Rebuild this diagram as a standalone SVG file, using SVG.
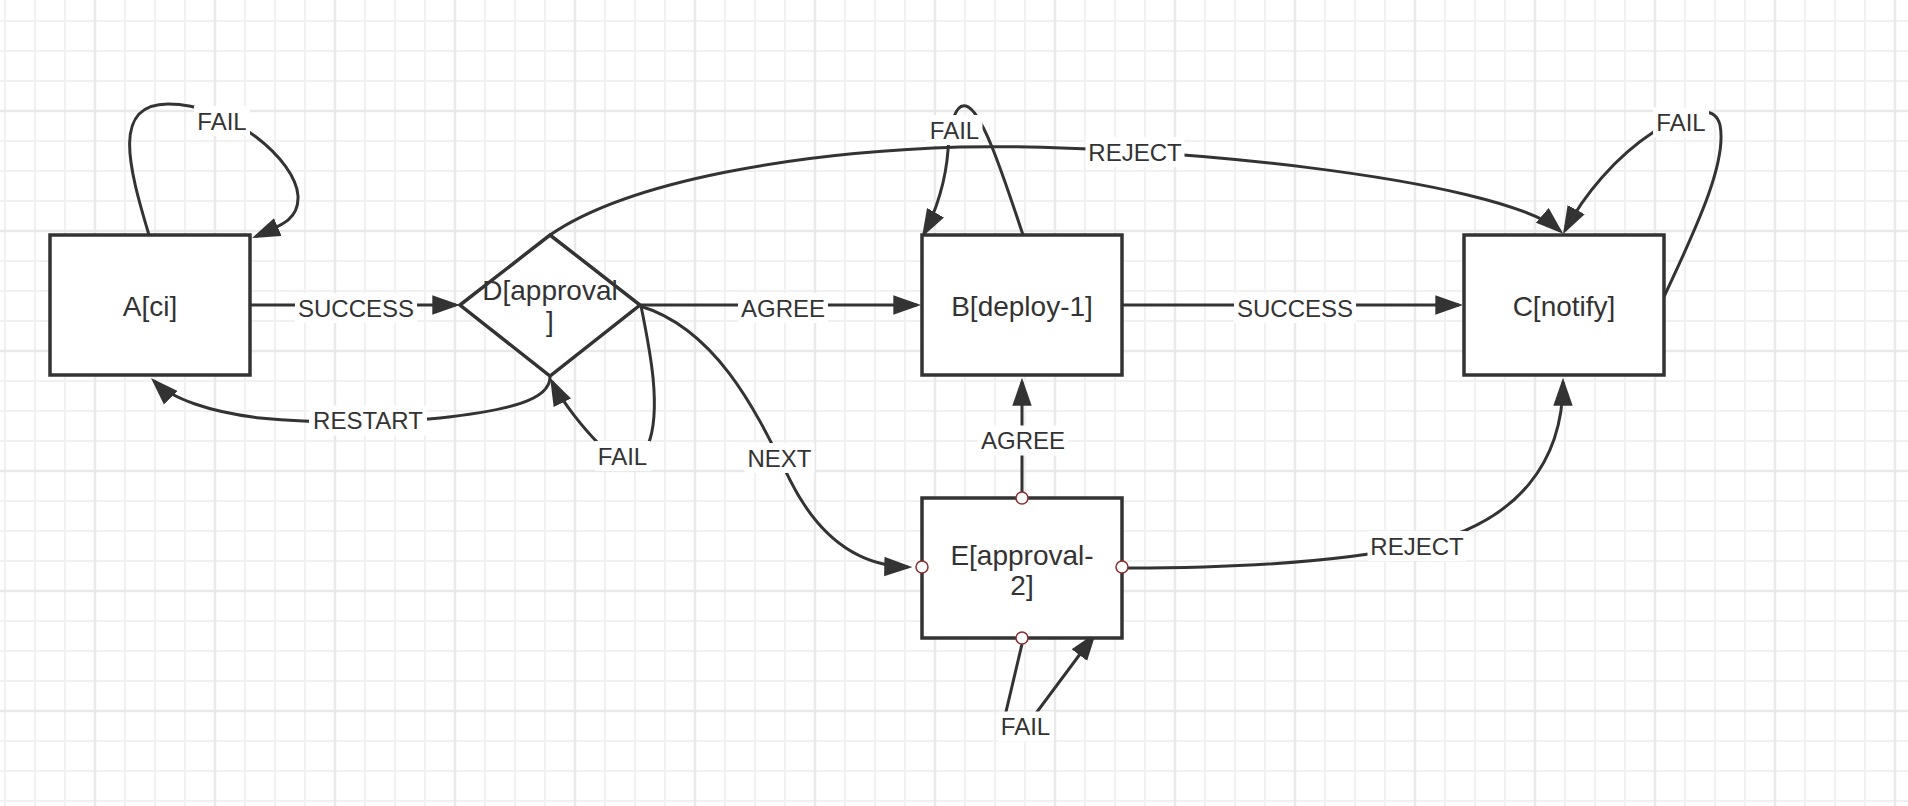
<svg xmlns="http://www.w3.org/2000/svg" width="1908" height="806" viewBox="0 0 1908 806">
  <style>
    .edge { fill: none; stroke: #333; stroke-width: 3; }
    .arr { marker-end: url(#arrow); }
    .box { fill: #fff; stroke: #333; stroke-width: 3.5; }
    .ntext { font-family: "Liberation Sans", Arial, sans-serif; font-size: 28px; fill: #333; text-anchor: middle; }
    .ltext { font-family: "Liberation Sans", Arial, sans-serif; font-size: 24px; fill: #333; text-anchor: middle; }
    .lbg { fill: #fff; stroke: none; }
    .port { fill: #fff; stroke: #8a2f2f; stroke-width: 1.5; }
    .gmin { stroke: #f1f1f1; stroke-width: 2; }
    .gmaj { stroke: #e9e9e9; stroke-width: 2.5; }
  </style>
  <defs>
    <marker id="arrow" markerUnits="userSpaceOnUse" markerWidth="28" markerHeight="20" viewBox="0 0 26 18" refX="22" refY="9" orient="auto">
      <path d="M0,0 L26,9 L0,18 z" fill="#333"/>
    </marker>
    <pattern id="grid" patternUnits="userSpaceOnUse" x="-10" y="6" width="120" height="120">
      <line class="gmin" x1="15" y1="0" x2="15" y2="120"/>
      <line class="gmin" x1="45" y1="0" x2="45" y2="120"/>
      <line class="gmin" x1="75" y1="0" x2="75" y2="120"/>
      <line class="gmin" x1="0" y1="15" x2="120" y2="15"/>
      <line class="gmin" x1="0" y1="45" x2="120" y2="45"/>
      <line class="gmin" x1="0" y1="75" x2="120" y2="75"/>
      <line class="gmaj" x1="105" y1="0" x2="105" y2="120"/>
      <line class="gmaj" x1="0" y1="105" x2="120" y2="105"/>
    </pattern>
  </defs>

  <rect x="0" y="0" width="1908" height="806" fill="#fff"/>
  <rect x="0" y="0" width="1908" height="806" fill="url(#grid)"/>

  <g id="connectors">
    <path id="e-a-fail" class="edge arr" d="M149,235 C128,165 112,104 168,104 C230,104 296,160 298,196 C299,218 285,224 256,236.4"/>
    <path id="e-a-d" class="edge arr" d="M250,305 L456,305"/>
    <path id="e-d-a" class="edge arr" d="M550,377 C550,400 510,410 440,418 C390,423 320,424 260,418 C210,412 172,399 154,381"/>
    <path id="e-d-fail" class="edge arr" d="M641,306 C650,350 662,410 648,445 L600,445 C585,430 562,402 552,381.5"/>
    <path id="e-d-b" class="edge arr" d="M640,305 L917,305"/>
    <path id="e-d-c" class="edge arr" d="M550,235 C630,180 800,152 960,147 C1150,143 1500,178 1560,231"/>
    <path id="e-d-e" class="edge arr" d="M640,306 C720,330 760,420 790,480 C820,540 860,566 908,567"/>
    <path id="e-b-fail" class="edge arr" d="M1023,235 C1003,175 982,110 966,106 C955,103 950,125 948,150 C946,180 936,212 924,233.5"/>
    <path id="e-b-c" class="edge arr" d="M1122,305 L1459,305"/>
    <path id="e-c-fail" class="edge arr" d="M1664,297 C1690,240 1728,165 1720,125 C1714,100 1680,115 1655,131 C1615,157 1584,195 1565,230.5"/>
    <path id="e-e-b" class="edge arr" d="M1022,492 L1022,382"/>
    <path id="e-e-c" class="edge arr" d="M1128,568 C1250,568 1350,560 1420,545 C1520,522 1563,460 1563,382"/>
    <path id="e-e-fail" class="edge arr" d="M1022,644 L1005,716 L1034,716 L1093.5,636"/>
  </g>

  <g id="node-A">
    <rect class="box" x="50" y="235" width="200" height="140"/>
    <text class="ntext" x="150" y="316">A[ci]</text>
  </g>
  <g id="node-D">
    <polygon class="box" points="460,305 550,235 640,305 550,376" stroke-width="3"/>
    <text class="ntext" x="550" y="300">D[approval</text>
    <text class="ntext" x="550" y="331">]</text>
  </g>
  <g id="node-B">
    <rect class="box" x="922" y="235" width="200" height="140"/>
    <text class="ntext" x="1022" y="316">B[deploy-1]</text>
  </g>
  <g id="node-C">
    <rect class="box" x="1464" y="235" width="200" height="140"/>
    <text class="ntext" x="1564" y="316">C[notify]</text>
  </g>
  <g id="node-E">
    <rect class="box" x="922" y="498" width="200" height="140"/>
    <text class="ntext" x="1022" y="564.5">E[approval-</text>
    <text class="ntext" x="1022" y="595">2]</text>
    <circle class="port" cx="1022" cy="498" r="6"/>
    <circle class="port" cx="922" cy="567" r="6"/>
    <circle class="port" cx="1122" cy="567" r="6"/>
    <circle class="port" cx="1022" cy="638" r="6"/>
  </g>

  <g id="edge-labels">
    <rect class="lbg" x="194" y="106" width="56" height="30"/>
    <text class="ltext" x="222" y="129.6">FAIL</text>
    <rect class="lbg" x="295" y="293" width="122" height="30"/>
    <text class="ltext" x="356" y="316.6">SUCCESS</text>
    <rect class="lbg" x="738" y="293" width="90" height="30"/>
    <text class="ltext" x="783" y="316.6">AGREE</text>
    <rect class="lbg" x="1234" y="293" width="122" height="30"/>
    <text class="ltext" x="1295" y="316.6">SUCCESS</text>
    <rect class="lbg" x="1085.5" y="137" width="99" height="30"/>
    <text class="ltext" x="1135" y="160.6">REJECT</text>
    <rect class="lbg" x="926.5" y="115" width="56" height="30"/>
    <text class="ltext" x="954.5" y="138.6">FAIL</text>
    <rect class="lbg" x="1653" y="107.5" width="56" height="30"/>
    <text class="ltext" x="1681" y="131.1">FAIL</text>
    <rect class="lbg" x="309" y="405.5" width="118" height="30"/>
    <text class="ltext" x="368" y="429.1">RESTART</text>
    <rect class="lbg" x="594.5" y="441" width="56" height="30"/>
    <text class="ltext" x="622.5" y="464.6">FAIL</text>
    <rect class="lbg" x="744.5" y="443" width="70" height="30"/>
    <text class="ltext" x="779.5" y="466.6">NEXT</text>
    <rect class="lbg" x="978" y="425.5" width="90" height="30"/>
    <text class="ltext" x="1023" y="449.1">AGREE</text>
    <rect class="lbg" x="1367.5" y="531" width="99" height="30"/>
    <text class="ltext" x="1417" y="554.6">REJECT</text>
    <rect class="lbg" x="997.5" y="711.5" width="56" height="30"/>
    <text class="ltext" x="1025.5" y="735.1">FAIL</text>
  </g>
</svg>
